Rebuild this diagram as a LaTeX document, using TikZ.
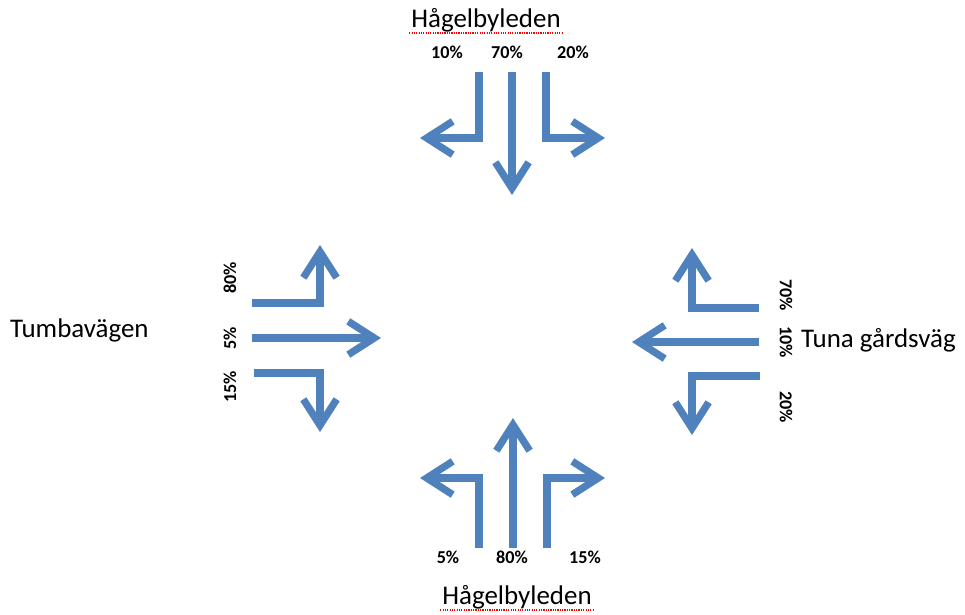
\documentclass[tikz,border=0pt]{standalone}
\usepackage{fontspec}
\setmainfont{Carlito}
\usetikzlibrary{arrows.meta}
\definecolor{laneblue}{HTML}{4F81BD}
\tikzset{
  lane/.style={draw=laneblue, line width=6.2pt, line join=miter,
    -{Straight Barb[length=.78cm, width=1.0cm, line width=6.2pt]}},
  road/.style={font=\fontsize{23}{27}\selectfont},
  share/.style={font=\bfseries\fontsize{15.5}{18}\selectfont},
  spell/.style={draw=red, densely dotted, line width=1pt}
}
\begin{document}
\begin{tikzpicture}[x=0.03cm, y=-0.03cm]
  \useasboundingbox (0, 0) rectangle (965, 614);
  % north approach
  \node[road] (north) at (486, 20) {Hågelbyleden};
  \draw[spell] (north.south west) ++(2, -3) -- ([shift={(-2, -3)}]north.south east);
  \node[share] (n10) at (447, 52) {10\%};
  \node[share] (n70) at (507, 52) {70\%};
  \node[share] (n20) at (573, 52) {20\%};
  \coordinate (nl) at (479, 72);
  \coordinate (ns) at (512, 72);
  \coordinate (nr) at (546, 72);
  \draw[lane] (nl) -- (479, 138) -- (420, 138);
  \draw[lane] (ns) -- (512, 195);
  \draw[lane] (nr) -- (546, 138) -- (605, 138);
  % west approach
  \node[road, anchor=west] (west) at (6, 330) {Tumbavägen};
  \node[share, rotate=90] (w80) at (230, 278) {80\%};
  \node[share, rotate=90] (w5) at (230, 338) {5\%};
  \node[share, rotate=90] (w15) at (230, 387) {15\%};
  \coordinate (wl) at (252, 303);
  \coordinate (ws) at (252, 338);
  \coordinate (wr) at (254, 373);
  \draw[lane] (wl) -- (320, 303) -- (320, 245);
  \draw[lane] (ws) -- (381, 338);
  \draw[lane] (wr) -- (320, 373) -- (320, 432);
  % east approach
  \node[road, anchor=west] (east) at (797, 340) {Tuna gårdsväg};
  \node[share, rotate=-90] (e70) at (786, 295) {70\%};
  \node[share, rotate=-90] (e10) at (786, 342) {10\%};
  \node[share, rotate=-90] (e20) at (786, 407) {20\%};
  \coordinate (el) at (759, 308);
  \coordinate (es) at (759, 342);
  \coordinate (er) at (760, 376);
  \draw[lane] (el) -- (692, 308) -- (692, 248);
  \draw[lane] (es) -- (632, 342);
  \draw[lane] (er) -- (692, 376) -- (692, 435);
  % south approach
  \node[road] (south) at (517, 597) {Hågelbyleden};
  \draw[spell] (south.south west) ++(2, -3) -- ([shift={(-2, -3)}]south.south east);
  \node[share] (s5) at (448, 557) {5\%};
  \node[share] (s80) at (512, 557) {80\%};
  \node[share] (s15) at (585, 557) {15\%};
  \coordinate (sl) at (479, 548);
  \coordinate (ss) at (513, 548);
  \coordinate (sr) at (547, 548);
  \draw[lane] (sl) -- (479, 478) -- (420, 478);
  \draw[lane] (ss) -- (513, 418);
  \draw[lane] (sr) -- (547, 478) -- (605, 478);
\end{tikzpicture}
\end{document}
